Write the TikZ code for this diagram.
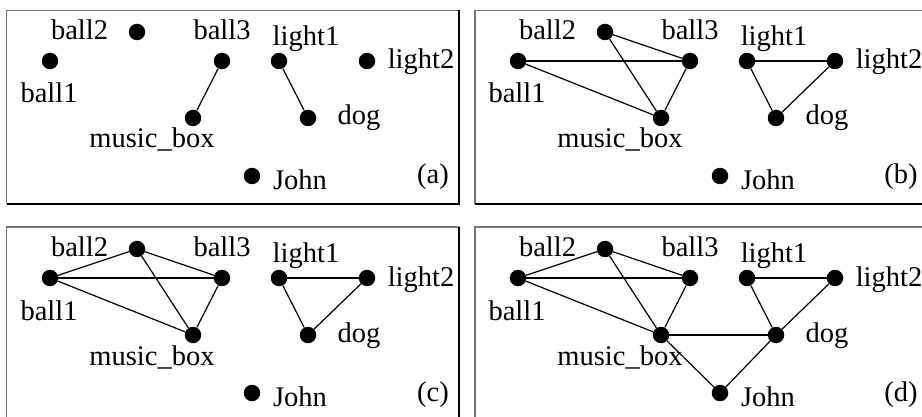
\documentclass[tikz,border=0pt]{standalone}
\usepackage{fontspec}
\setmainfont{Liberation Serif}
\tikzset{
  dot/.style={circle,fill=black,inner sep=0pt,minimum size=16.5pt},
  lab/.style={anchor=base,inner sep=0pt,font=\fontsize{28.5}{34}\selectfont},
  link/.style={line width=1.2pt,black},
  framelight/.style={draw=black!55,line width=1.6pt},
  framedark/.style={draw=black,line width=1.6pt}
}
\newcommand\panelnodes[4]{%
\begin{scope}[shift={(#2,#3)}]
  \node[dot] (#1ball1) at (50,61) {};
  \node[dot] (#1ball2) at (137,32) {};
  \node[dot] (#1ball3) at (222,61) {};
  \node[dot] (#1lightone) at (279,61) {};
  \node[dot] (#1lighttwo) at (367,61) {};
  \node[dot] (#1musicbox) at (193,118) {};
  \node[dot] (#1dog) at (308,118) {};
  \node[dot] (#1john) at (252,176) {};
  \node[lab] (#1tball1) at (49,103) {ball1};
  \node[lab] (#1tball2) at (79.5,39.5) {ball2};
  \node[lab] (#1tball3) at (222,39.5) {ball3};
  \node[lab] (#1tlightone) at (306,45.5) {light1};
  \node[lab] (#1tlighttwo) at (421,69) {light2};
  \node[lab] (#1tmusicbox) at (152,148) {music\_box};
  \node[lab] (#1tdog) at (359,125) {dog};
  \node[lab] (#1tjohn) at (300,189.5) {John};
  \node[lab] (#1tag) at (433,184) {(#4)};
\end{scope}}
\begin{document}
\begin{tikzpicture}[x=1pt,y=-1pt]
  \useasboundingbox (0,0) rectangle (922,417);
  \clip (0,0) rectangle (922,417);
  % frames
  \coordinate (fa1) at (6.5,10.5); \coordinate (fa2) at (459,10.5);
  \coordinate (fa3) at (459,204);  \coordinate (fa4) at (6.5,204);
  \draw[framelight] (fa4) -- (fa1) -- (fa2);
  \draw[framedark] (fa2) -- (fa3) -- (fa4);
  \coordinate (fb1) at (475,10.5); \coordinate (fb2) at (930,10.5);
  \coordinate (fb4) at (475,204);  \coordinate (fb3) at (930,204);
  \draw[framelight] (fb4) -- (fb1) -- (fb2);
  \draw[framedark] (fb3) -- (fb4);
  \coordinate (fc1) at (6.5,227); \coordinate (fc2) at (459,227);
  \coordinate (fc3) at (459,425);  \coordinate (fc4) at (6.5,425);
  \draw[framelight] (fc4) -- (fc1) -- (fc2);
  \draw[framedark] (fc2) -- (fc3);
  \coordinate (fd1) at (475,227); \coordinate (fd2) at (930,227);
  \coordinate (fd4) at (475,425);
  \draw[framelight] (fd4) -- (fd1) -- (fd2);
  % panels
  \panelnodes{a}{0}{0}{a}
  \panelnodes{b}{468}{0}{b}
  \panelnodes{c}{0}{217}{c}
  \panelnodes{d}{468}{217}{d}
  % (a)
  \draw[link] (aball3) -- (amusicbox);
  \draw[link] (alightone) -- (adog);
  % (b), (c), (d)
  \foreach \p in {b,c,d}{
    \draw[link] (\p ball1) -- (\p ball3);
    \draw[link] (\p ball1) -- (\p musicbox);
    \draw[link] (\p ball2) -- (\p ball3);
    \draw[link] (\p ball2) -- (\p musicbox);
    \draw[link] (\p ball3) -- (\p musicbox);
    \draw[link] (\p lightone) -- (\p lighttwo);
    \draw[link] (\p lightone) -- (\p dog);
    \draw[link] (\p lighttwo) -- (\p dog);
  }
  \foreach \p in {c,d}{
    \draw[link] (\p ball1) -- (\p ball2);
  }
  \draw[link] (dmusicbox) -- (ddog);
  \draw[link] (dmusicbox) -- (djohn);
  \draw[link] (ddog) -- (djohn);
\end{tikzpicture}
\end{document}
